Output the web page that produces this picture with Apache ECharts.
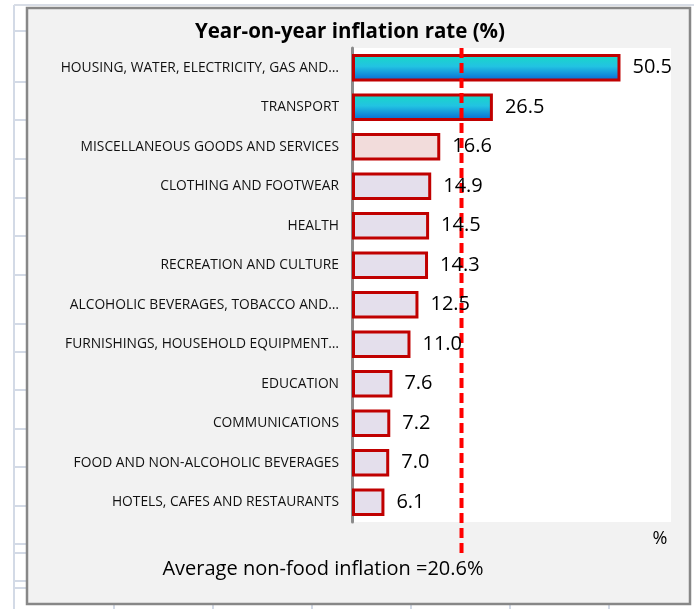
<!DOCTYPE html>
<html>
<head>
<meta charset="utf-8">
<script src="https://cdn.jsdelivr.net/npm/echarts@6/dist/echarts.min.js"></script>
<style>
  html, body { margin: 0; padding: 0; background: #ffffff; }
  #chart { width: 694px; height: 609px; }
</style>
</head>
<body>
<div id="chart"></div>
<script>
// CPI components, year-on-year inflation (%)
const categories = [
  'HOUSING, WATER, ELECTRICITY, GAS AND…',
  'TRANSPORT',
  'MISCELLANEOUS GOODS AND SERVICES',
  'CLOTHING AND FOOTWEAR',
  'HEALTH',
  'RECREATION AND CULTURE',
  'ALCOHOLIC BEVERAGES, TOBACCO AND…',
  'FURNISHINGS, HOUSEHOLD EQUIPMENT…',
  'EDUCATION',
  'COMMUNICATIONS',
  'FOOD AND NON-ALCOHOLIC BEVERAGES',
  'HOTELS, CAFES AND RESTAURANTS'
];
const inflation = [50.5, 26.5, 16.6, 14.9, 14.5, 14.3, 12.5, 11.0, 7.6, 7.2, 7.0, 6.1];
const averageNonFood = 20.6;
const xTicks = { min: 0, max: 60 };

const FONT = '"Open Sans", "Liberation Sans", Arial, sans-serif';

const blueFill = new echarts.graphic.LinearGradient(0, 0, 0, 1, [
  { offset: 0, color: '#17dac4' },
  { offset: 0.45, color: '#22c3e2' },
  { offset: 1, color: '#0563d3' }
]);

function fillFor(i) {
  if (i < 2) return blueFill;
  if (i === 2) return '#f2dcdb';
  return '#e4dfec';
}

const barData = inflation.map((v, i) => ({
  value: v,
  itemStyle: { color: fillFor(i) }
}));

const chart = echarts.init(document.getElementById('chart'), null, { renderer: 'canvas' });

// spreadsheet cell lines peeking around the chart object
const sheetLines = [];
sheetLines.push({ type: 'line', shape: { x1: 14, y1: 5, x2: 14, y2: 609 }, style: { stroke: '#d3dae6', lineWidth: 2 }, z: -10 });
sheetLines.push({ type: 'line', shape: { x1: 14, y1: 5, x2: 694, y2: 5 }, style: { stroke: '#d8dde6', lineWidth: 2 }, z: -10 });
[31, 82, 120, 159, 198, 236, 275, 324, 352, 390, 429, 467, 506, 544, 553, 581, 588].forEach(y => {
  sheetLines.push({ type: 'line', shape: { x1: 14, y1: y, x2: 27, y2: y }, style: { stroke: '#d3dae6', lineWidth: 2 }, z: -10 });
});
[114, 213, 312, 411, 510, 609].forEach(x => {
  sheetLines.push({ type: 'line', shape: { x1: x, y1: 604, x2: x, y2: 609 }, style: { stroke: '#d3dae6', lineWidth: 2 }, z: -10 });
});

chart.setOption({
  backgroundColor: '#ffffff',
  animation: false,
  title: {
    text: 'Year-on-year inflation rate (%)',
    left: 345,
    top: 17,
    textAlign: 'center',
    textStyle: { fontFamily: FONT, fontSize: 20.5, fontWeight: 'bold', color: '#000' }
  },
  graphic: sheetLines.concat([
    {
      type: 'rect',
      shape: { x: 27, y: 8, width: 663, height: 596 },
      style: { fill: '#f2f2f2', stroke: '#878787', lineWidth: 2.5 },
      z: -5
    },
    {
      type: 'text',
      x: 660, y: 539,
      style: { text: '%', fontFamily: FONT, fontSize: 18, fill: '#000', align: 'center', verticalAlign: 'middle' }
    },
    {
      type: 'text',
      x: 323, y: 569,
      style: { text: 'Average non-food inflation =20.6%', fontFamily: FONT, fontSize: 20, fill: '#000', align: 'center', verticalAlign: 'middle' }
    }
  ]),
  grid: [
    { left: 352, right: 23, top: 48, height: 474, show: true, backgroundColor: '#ffffff', borderWidth: 0 },
    { left: 352, right: 23, top: 48, height: 505, show: false }
  ],
  xAxis: [
    { gridIndex: 0, type: 'value', min: xTicks.min, max: xTicks.max, show: false, splitLine: { show: false } },
    { gridIndex: 1, type: 'value', min: xTicks.min, max: xTicks.max, show: false, splitLine: { show: false } }
  ],
  yAxis: [
    {
      gridIndex: 0,
      type: 'category',
      data: categories,
      inverse: true,
      axisLine: { show: true, lineStyle: { color: '#8c8c8c', width: 3 } },
      axisTick: { show: false },
      axisLabel: { margin: 13, fontFamily: FONT, fontSize: 13.8, color: '#111' }
    },
    { gridIndex: 1, type: 'value', min: 0, max: 1, show: false, splitLine: { show: false } }
  ],
  series: [
    {
      type: 'bar',
      xAxisIndex: 0, yAxisIndex: 0,
      data: barData,
      barWidth: '69%',
      itemStyle: { borderColor: '#c00000', borderWidth: 3 },
      z: 2
    },
    {
      // average non-food inflation reference line
      type: 'line',
      xAxisIndex: 1, yAxisIndex: 1,
      data: [[averageNonFood, 0], [averageNonFood, 1]],
      symbol: 'none',
      lineStyle: { color: '#ff0000', width: 4, type: [10, 5] },
      z: 3
    },
    {
      // value labels drawn above the reference line
      type: 'bar',
      xAxisIndex: 0, yAxisIndex: 0,
      data: inflation,
      barWidth: '69%',
      barGap: '-100%',
      itemStyle: { color: 'rgba(0,0,0,0)' },
      label: {
        show: true,
        position: 'right',
        distance: 12,
        formatter: p => p.value.toFixed(1),
        fontFamily: FONT,
        fontSize: 20,
        color: '#000'
      },
      z: 4
    }
  ]
});
</script>
</body>
</html>
